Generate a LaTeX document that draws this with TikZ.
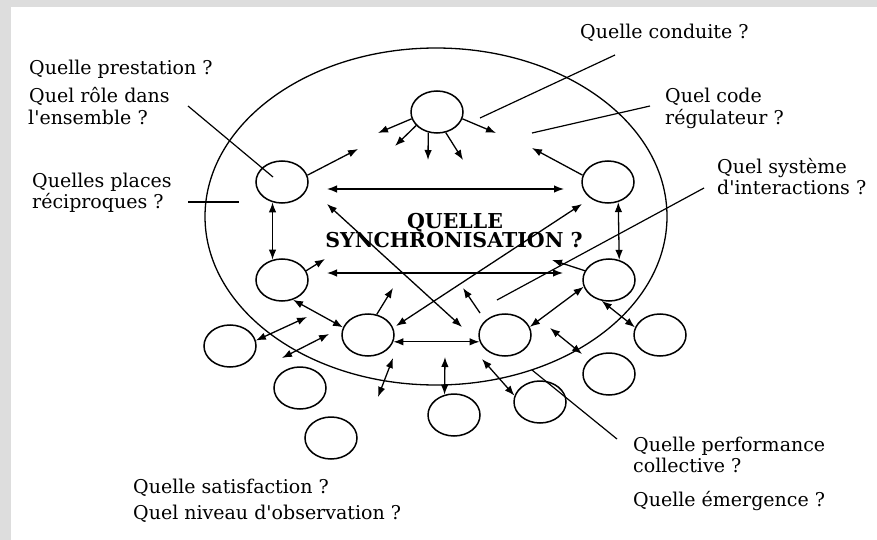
\documentclass[tikz,border=0pt]{standalone}
\usepackage{fontspec}
\setmainfont{DejaVu Serif}[Ligatures=TeXOff]
\usetikzlibrary{arrows.meta,shapes.geometric}
\definecolor{frame}{RGB}{221,221,221}
\begin{document}
\begin{tikzpicture}[x=1pt,y=-1pt,
  agent/.style={ellipse,draw,line width=1.5pt,minimum width=52pt,minimum height=42pt,inner sep=0pt},
  sarr/.style={line width=1.3pt,-{Latex[length=10pt,width=7.5pt]}},
  darr/.style={line width=1.3pt,{Latex[length=10pt,width=7.5pt]}-{Latex[length=10pt,width=7.5pt]}},
  lead/.style={line width=1.2pt},
  lbl/.style={anchor=base west,inner sep=0pt,font=\fontsize{19}{22}\selectfont},
  ttl/.style={anchor=base,inner sep=0pt,font=\fontsize{20.5}{24}\selectfont\bfseries}]
\fill[frame] (0,0) rectangle (877,540);
\fill[white] (11,7) rectangle (877,540);
\useasboundingbox (0,0) rectangle (877,540);

% system boundary
\node[ellipse,draw,line width=1.3pt,minimum width=462pt,minimum height=337pt,inner sep=0pt] (sys) at (436,216.5) {};

% agents
\node[agent] (T) at (437,112) {};
\node[agent] (A) at (282,182) {};
\node[agent] (B) at (608,182) {};
\node[agent] (C) at (282,280) {};
\node[agent] (D) at (609,280) {};
\node[agent] (E) at (368,335) {};
\node[agent] (F) at (505,335) {};
\node[agent] (O1) at (230,346) {};
\node[agent] (O2) at (300,388) {};
\node[agent] (O3) at (331,438) {};
\node[agent] (O4) at (454,415) {};
\node[agent] (O5) at (540,402) {};
\node[agent] (O6) at (609,374) {};
\node[agent] (O7) at (660,335) {};

% free ends
\coordinate (t1) at (378,133);
\coordinate (t2) at (395,146);
\coordinate (t3) at (428,160);
\coordinate (t4) at (463,160);
\coordinate (t5) at (496,133);
\coordinate (a1) at (358,149);
\coordinate (h1a) at (327,189);
\coordinate (h1b) at (564,189);
\coordinate (d1a) at (327,204);
\coordinate (d1b) at (462,327);
\coordinate (b1) at (532,148);
\coordinate (d2a) at (582,204);
\coordinate (d2b) at (396,326);
\coordinate (c1) at (325,259);
\coordinate (h2a) at (327,273);
\coordinate (h2b) at (563,273);
\coordinate (dd1) at (552,260);
\coordinate (e1) at (393,288);
\coordinate (e2a) at (393,358);
\coordinate (e2b) at (378,397);
\coordinate (o1) at (307,317);
\coordinate (o2a) at (282,358);
\coordinate (o2b) at (329,334);
\coordinate (f1a) at (480,313);
\coordinate (f1b) at (463,288);
\coordinate (f2a) at (445,357);
\coordinate (f3a) at (482,359);
\coordinate (f4a) at (550,328);
\coordinate (f4b) at (582,354);

% arrows
\draw[sarr] (T.195) -- (t1);
\draw[sarr] (T.213) -- (t2);
\draw[sarr] (T.247) -- (t3);
\draw[sarr] (T.293) -- (t4);
\draw[sarr] (T.345) -- (t5);
\draw[sarr] (A.15) -- (a1);
\draw[darr] (h1a) -- (h1b);
\draw[darr] (d1a) -- (d1b);
\draw[darr] (A.245) -- (C.115);
\draw[sarr] (B.165) -- (b1);
\draw[darr] (B.297) -- (D.63);
\draw[darr] (d2a) -- (d2b);
\draw[sarr] (C.21) -- (c1);
\draw[darr] (h2a) -- (h2b);
\draw[darr] (C.299) -- (E.163);
\draw[sarr] (D.159) -- (dd1);
\draw[darr] (D.195) -- (F.18);
\draw[darr] (D.251) -- (O7.163);
\draw[sarr] (E.67) -- (e1);
\draw[darr] (E.345) -- (F.195);
\draw[darr] (e2a) -- (e2b);
\draw[darr] (O1.12) -- (o1);
\draw[darr] (o2a) -- (o2b);
\draw[sarr] (f1a) -- (f1b);
\draw[darr] (f2a) -- (O4.115);
\draw[darr] (f3a) -- (O5.166);
\draw[darr] (f4a) -- (f4b);

% labels
\node[lbl] (l1) at (29,75) {Quelle prestation ?};
\node[lbl] (l2) at (29,103) {Quel rôle dans};
\node[lbl] (l3) at (28,125) {l'ensemble ?};
\node[lbl] (l4) at (32,187) {Quelles places};
\node[lbl] (l5) at (32,208) {réciproques ?};
\node[lbl] (l6) at (580,39) {Quelle conduite ?};
\node[lbl] (l7) at (665,103) {Quel code};
\node[lbl] (l8) at (665,125) {régulateur ?};
\node[lbl] (l9) at (717,173) {Quel système};
\node[lbl] (l10) at (717,194) {d'interactions ?};
\node[lbl] (l11) at (633,451) {Quelle performance};
\node[lbl] (l12) at (633,472) {collective ?};
\node[lbl] (l13) at (633,506) {Quelle émergence ?};
\node[lbl] (l14) at (133,493) {Quelle satisfaction ?};
\node[lbl] (l15) at (133,519) {Quel niveau d'observation ?};
\node[ttl] (q1) at (455,228) {QUELLE};
\node[ttl] (q2) at (454,247) {SYNCHRONISATION ?};

% leader lines
\coordinate (k1a) at (188,106); \coordinate (k1b) at (273,177);
\coordinate (k2a) at (188,202); \coordinate (k2b) at (239,202);
\coordinate (k3a) at (615,55);  \coordinate (k3b) at (480,118);
\coordinate (k4a) at (650,106); \coordinate (k4b) at (532,133);
\coordinate (k5a) at (704,188); \coordinate (k5b) at (497,300);
\coordinate (k6a) at (617,439); \coordinate (k6b) at (532,370);
\draw[lead] (k1a) -- (k1b);
\draw[lead] (k2a) -- (k2b);
\draw[lead] (k3a) -- (k3b);
\draw[lead] (k4a) -- (k4b);
\draw[lead] (k5a) -- (k5b);
\draw[lead] (k6a) -- (k6b);
\end{tikzpicture}
\end{document}
